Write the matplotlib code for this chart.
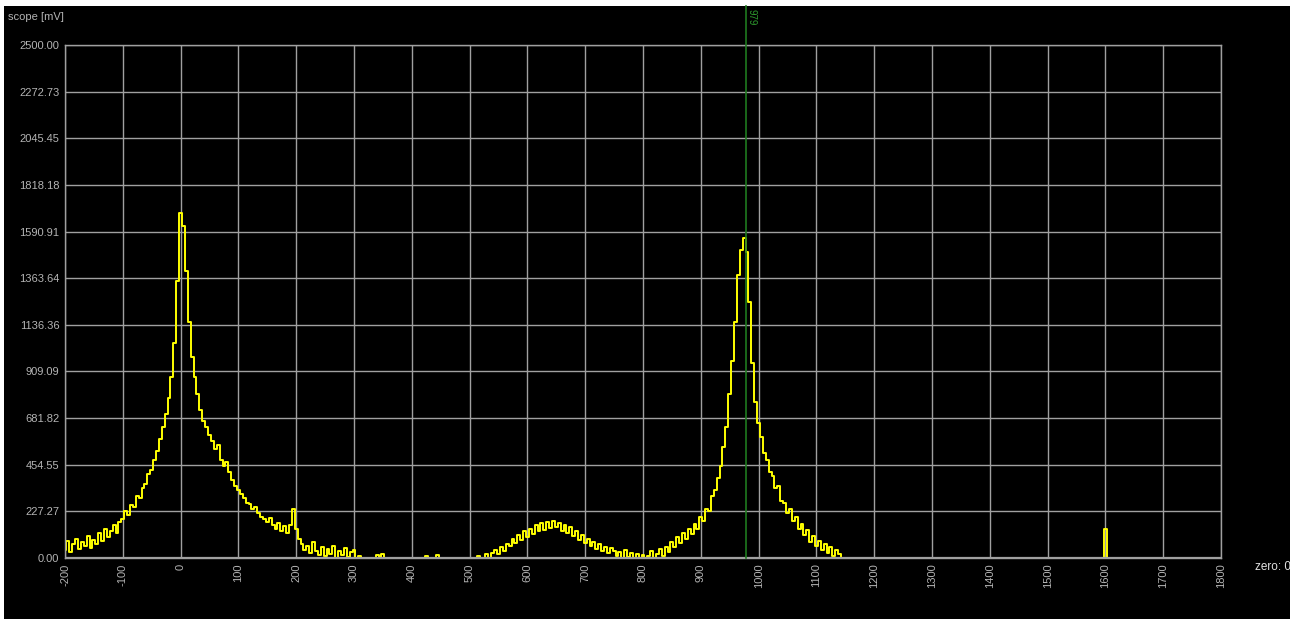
import numpy as np
import matplotlib
matplotlib.use("Agg")
import matplotlib.pyplot as plt
from matplotlib.patches import Rectangle

# scope trace, one value every 5 units from -200 to 1150 (mV)
x_start = -200
x_step = 5
trace = [
    40, 85, 30, 70, 95, 45, 80, 60, 105, 50,             # -200
    90, 70, 120, 85, 140, 100, 130, 160, 120, 175,       # -150
    190, 230, 210, 260, 250, 300, 290, 340, 360, 410,    # -100
    430, 480, 520, 580, 640, 700, 780, 880, 1050, 1350,  # -50
    1680, 1620, 1400, 1150, 980, 880, 800, 720, 670, 640,  # 0
    600, 570, 530, 550, 480, 450, 470, 420, 380, 350,    # 50
    330, 310, 290, 270, 265, 240, 250, 220, 200, 190,    # 100
    175, 195, 160, 140, 170, 130, 155, 120, 160, 240,    # 150
    140, 95, 70, 40, 60, 25, 80, 35, 15, 55,             # 200
    10, 45, 20, 60, 0, 35, 15, 50, 5, 30,                # 250
    40, 0, 10, 0, 0, 0, 0, 0, 15, 0,                     # 300
    20, 0, 0, 0, 0, 0, 0, 0, 0, 0,                       # 350
    0, 0, 0, 0, 0, 10, 0, 0, 0, 15,                      # 400
    0, 0, 0, 0, 0, 0, 0, 0, 0, 0,                        # 450
    0, 0, 0, 10, 0, 0, 20, 0, 25, 40,                    # 500
    20, 55, 35, 70, 60, 95, 75, 110, 90, 130,            # 550
    100, 140, 115, 160, 130, 170, 135, 175, 145, 180,    # 600
    150, 170, 130, 160, 120, 150, 105, 130, 90, 110,     # 650
    75, 95, 60, 80, 45, 70, 35, 55, 25, 50,              # 700
    35, 10, 30, 0, 40, 5, 25, 0, 20, 0,                  # 750
    15, 0, 10, 35, 0, 20, 45, 10, 55, 30,                # 800
    80, 55, 100, 75, 120, 95, 140, 115, 165, 140,        # 850
    200, 180, 240, 230, 300, 330, 390, 450, 540, 640,    # 900
    800, 960, 1150, 1380, 1500, 1560, 1490, 1250, 950, 760,  # 950
    660, 590, 510, 480, 420, 400, 340, 350, 280, 270,    # 1000
    220, 240, 180, 200, 140, 165, 110, 135, 80, 105,     # 1050
    60, 85, 40, 70, 25, 55, 10, 40, 20, 0,               # 1100
    0,                                                   # 1150
]
spike_x = [1595, 1600, 1605]
spike_y = [0, 140, 0]

x_ticks = list(range(-200, 1801, 100))
y_ticks = [2500 * i / 11 for i in range(12)]
marker_x = 979

x = x_start + x_step * np.arange(len(trace))
x_all = np.concatenate([x, [1155, 1590], spike_x, [1610, 1800]])
y_all = np.concatenate([trace, [0, 0], spike_y, [0, 0]])

W, H = 1290, 619
fig = plt.figure(figsize=(W / 100, H / 100), dpi=100, facecolor="white")
# black screen area, white strip at top and left
fig.patches.append(Rectangle((4 / W, 0), 1, 1 - 6 / H, transform=fig.transFigure,
                             facecolor="black", edgecolor="none", zorder=-10))

ax = fig.add_axes([65 / W, (H - 558) / H, 1156 / W, 513 / H])
ax.set_zorder(1)
ax.set_facecolor("black")
grid_col = "#a0a0a0"
lab_col = "#b4b4b4"
font = "Liberation Sans"

ax.plot(x_all, y_all, color="#ffff00", lw=1.4, drawstyle="steps-mid", zorder=2)
ax.axhline(0, color=grid_col, lw=1.6, zorder=3)

ax.set_xlim(-200, 1800)
ax.set_ylim(0, 2500)
ax.set_xticks(x_ticks)
ax.set_yticks(y_ticks)
ax.set_xticklabels([str(t) for t in x_ticks], rotation=90, va="top",
                   fontfamily=font, fontsize=8, color=lab_col)
ax.set_yticklabels([f"{t:.2f}" for t in y_ticks],
                   fontfamily=font, fontsize=8, color=lab_col)
ax.tick_params(length=0, pad=4)
ax.grid(True, color=grid_col, lw=1.0, zorder=1)
ax.set_axisbelow(True)
for s in ax.spines.values():
    s.set_color(grid_col)
    s.set_linewidth(1.0)

# cursor marker
ax.axvline(marker_x, ymin=0, ymax=(558 - 6) / 513, color="#1f7a1f", lw=1.2,
           clip_on=False, zorder=4)
ax.text(marker_x + 8, 2500 + 2500 / 513 * 28, str(marker_x), rotation=270,
        ha="center", va="center", color="#2e9a2e", fontsize=7, fontfamily=font)

fig.text(8 / W, 1 - 17 / H, "scope [mV]", color=lab_col, fontsize=8,
         fontfamily=font, va="center")
fig.text(1255 / W, 1 - 567 / H, "zero: 0", color="#e0e0e0", fontsize=8.5,
         fontfamily=font, va="center")

fig.savefig("out.png", dpi=100, facecolor=fig.get_facecolor())
